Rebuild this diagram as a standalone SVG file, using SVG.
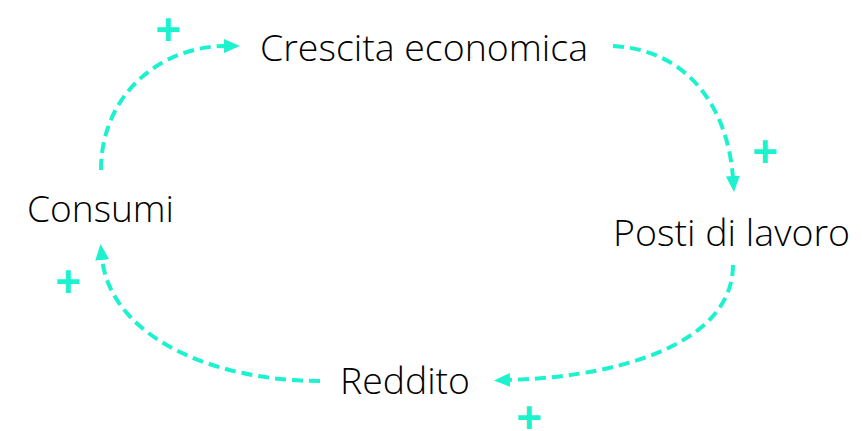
<svg xmlns="http://www.w3.org/2000/svg" width="862" height="431" viewBox="0 0 862 431">
<style>
.lbl{font-family:"Open Sans","Liberation Sans",sans-serif;font-weight:300;font-size:36px;fill:#000}
.plus{font-family:"Liberation Sans",sans-serif;font-weight:bold;font-size:44px;fill:#1DF2CE;text-anchor:middle}
.con{fill:none;stroke:#1DF2CE;stroke-width:4;stroke-dasharray:11 6;marker-end:url(#ah)}
</style>
<defs>
<marker id="ah" markerUnits="userSpaceOnUse" markerWidth="16" markerHeight="16" viewBox="0 0 16 16" refX="2" refY="8" orient="auto">
<path d="M0,1 L16,8 L0,15 Z" fill="#1DF2CE"/>
</marker>
</defs>
<rect width="862" height="431" fill="#fff"/>
<g id="connectors">
<path class="con" d="M101,170 C101,95 160,46 226,46"/>
<path class="con" d="M613,46 C690,50 728,110 733,178"/>
<path class="con" d="M733,265 C733,335 640,376 508,380"/>
<path class="con" d="M320,381 C210,381 110,335 102,258"/>
</g>
<g id="crescita"><text class="lbl" x="260" y="61" textLength="328" lengthAdjust="spacingAndGlyphs">Crescita economica</text></g>
<g id="posti"><text class="lbl" x="613" y="246" textLength="237" lengthAdjust="spacingAndGlyphs">Posti di lavoro</text></g>
<g id="consumi"><text class="lbl" x="27" y="222" textLength="147" lengthAdjust="spacingAndGlyphs">Consumi</text></g>
<g id="reddito"><text class="lbl" x="340" y="394" textLength="130" lengthAdjust="spacingAndGlyphs">Reddito</text></g>
<g id="signs">
<text class="plus" x="168" y="45">+</text>
<text class="plus" x="765" y="167">+</text>
<text class="plus" x="68" y="297">+</text>
<text class="plus" x="529" y="433">+</text>
</g>
</svg>
